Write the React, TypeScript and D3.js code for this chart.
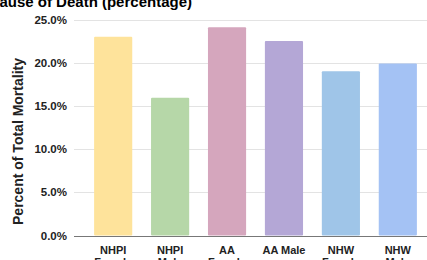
import React from "react";
import * as d3 from "d3";

const categories = ["NHPI Female", "NHPI Male", "AA Female", "AA Male", "NHW Female", "NHW Male"];
const labelLines = [["NHPI", "Female"], ["NHPI", "Male"], ["AA", "Female"], ["AA Male"], ["NHW", "Female"], ["NHW", "Male"]];
const values = [23.0, 15.95, 24.1, 22.5, 19.0, 19.9];
const colors = ["#fee39b", "#b6d7a8", "#d5a6bd", "#b4a7d6", "#9fc5e8", "#a4c2f4"];
const yTicks = [0, 5, 10, 15, 20, 25];
const title = "Cause of Death (percentage)";
const yTitle = "Percent of Total Mortality";

const W = 427;
const H = 260;
const FONT = "'Liberation Sans', Arial, sans-serif";

export default function App() {
  const x = d3.scaleBand<string>().domain(categories).range([85, 426]).paddingInner(0.33).paddingOuter(0.16);
  const y = d3.scaleLinear().domain([0, 25]).range([235.5, 19.5]);
  const gridX0 = 74;
  const gridX1 = 427;
  return (
    <svg width={W} height={H} style={{ position: "absolute", left: 0, top: 0, background: "#fff" }} fontFamily={FONT}>
      <text x={192} y={7} textAnchor="end" fontSize={15} fontWeight="bold" fill="#000">{title}</text>
      {yTicks.map((t) => (
        <g key={t}>
          {t > 0 && <line x1={gridX0} x2={gridX1} y1={Math.round(y(t)) + 0.5} y2={Math.round(y(t)) + 0.5} stroke="#e3e3e3" strokeWidth={1} />}
          <text x={67} y={y(t) + 4} textAnchor="end" fontSize={11.5} fontWeight="bold" fill="#222">{d3.format(".1f")(t)}%</text>
        </g>
      ))}
      {categories.map((c, i) => (
        <rect key={c} x={x(c)} y={y(values[i])} width={x.bandwidth()} height={y(0) - y(values[i])} fill={colors[i]} rx={1} />
      ))}
      <line x1={gridX0} x2={gridX1} y1={Math.round(y(0)) + 0.5} y2={Math.round(y(0)) + 0.5} stroke="#777" strokeWidth={1} />
      {categories.map((c, i) => (
        <text key={c} x={(x(c) ?? 0) + x.bandwidth() / 2} y={254} textAnchor="middle" fontSize={11} fontWeight="bold" fill="#222">
          {labelLines[i].map((l, j) => (
            <tspan key={j} x={(x(c) ?? 0) + x.bandwidth() / 2} dy={j === 0 ? 0 : 12}>{l}</tspan>
          ))}
        </text>
      ))}
      <text transform={`translate(23,141.5) rotate(-90)`} textAnchor="middle" fontSize={14} fontWeight="bold" fill="#222">{yTitle}</text>
    </svg>
  );
}
